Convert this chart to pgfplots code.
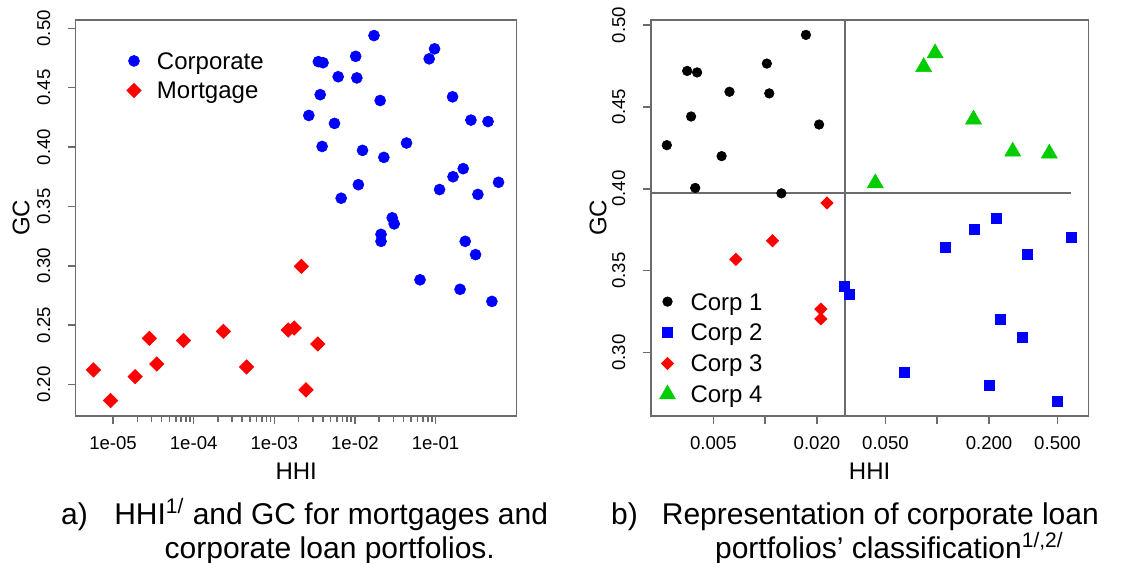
\documentclass[border=0pt]{standalone}
\usepackage{fontspec}
\setmainfont{Liberation Sans}
\usepackage{pgfplots}
\pgfplotsset{compat=1.18}
\definecolor{rgreen}{RGB}{0,205,0}
\definecolor{boxgray}{gray}{0.42}

\pgfplotsset{
  rstyle/.style={
    scale only axis,
    axis line style={boxgray, line width=0.8bp},
    tick style={boxgray, line width=0.8bp},
    tick align=outside,
    tick pos=left,
    major tick length=4bp,
    minor xtick={}, minor ytick={},
    ticklabel style={font=\fontsize{9.3bp}{11bp}\selectfont, inner sep=0pt},
    yticklabel style={rotate=90, anchor=south},
    xticklabel style={anchor=north},
    xticklabel shift=6bp,
    yticklabel shift=8.5bp,
    label style={font=\fontsize{12bp}{14bp}\selectfont},
    xlabel style={at={(axis description cs:0.5,-0.139)}, anchor=center},
    legend cell align=left,
    legend style={draw=none, fill=none, inner sep=0pt, outer sep=0pt,
      font=\fontsize{12bp}{14bp}\selectfont,
      nodes={inner sep=0pt, text depth=0pt},
      /tikz/every odd column/.append style={column sep=5.5bp}},
    mks/.style={only marks, mark options={solid, line width=0.3bp}},
  }
}

\begin{document}
\begin{tikzpicture}
% ---------------- Panel a ----------------
\begin{axis}[xmode=log, rstyle,
  at={(37.85bp,73.5bp)}, anchor=south west,
  width=220.5bp, height=198bp,
  xmin=3.44e-6, xmax=1.015, ymin=0.1735, ymax=0.507,
  xtick={1e-5,1e-4,1e-3,1e-2,1e-1},
  xticklabels={1e-05,1e-04,1e-03,1e-02,1e-01},
  ytick={0.20,0.25,0.30,0.35,0.40,0.45,0.50},
  yticklabels={0.20,0.25,0.30,0.35,0.40,0.45,0.50},
  xlabel={HHI}, ylabel={GC},
  ylabel style={at={(axis description cs:-0.124,0.5)}, anchor=center},
  legend image code/.code={\draw[#1] plot coordinates {(0bp,0bp)}; \path[draw=none, fill=none] (-6bp,-7.4bp) rectangle (6bp,7.4bp);},
  legend style={at={(axis description cs:0.105,0.934)}, anchor=north west},
]
\addplot[mks, blue, mark=*, mark size=2.75bp] coordinates {
(0.00268,0.4266) (0.00352,0.4719) (0.00402,0.4710) (0.00371,0.4441)
(0.00392,0.4005) (0.00620,0.4592) (0.00558,0.4199) (0.01022,0.4764)
(0.01056,0.4582) (0.01242,0.3972) (0.01725,0.4939) (0.02057,0.4392)
(0.0290,0.3404) (0.0307,0.3353) (0.1121,0.3642) (0.1648,0.3750)
(0.2204,0.3818) (0.6045,0.3703) (0.3350,0.3601) (0.2334,0.3206)
(0.3135,0.3094) (0.0642,0.2882) (0.2014,0.2802) (0.5000,0.2700)
(0.02284,0.3913) (0.01103,0.3683) (0.00675,0.3569) (0.02107,0.3265)
(0.02107,0.3206)
(0.04365,0.4034) (0.0834,0.4743) (0.0972,0.4827) (0.1625,0.4423)
(0.2746,0.4227) (0.4480,0.4215)
};
\addlegendentry{Corporate}
\addplot[mks, red, mark=square*, mark size=2.5bp, mark options={rotate=45}] coordinates {
(5.71e-6,0.2123) (9.31e-6,0.1865) (1.879e-5,0.2067) (2.818e-5,0.2389)
(3.49e-5,0.2173) (7.48e-5,0.2370) (2.339e-4,0.2448) (4.53e-4,0.2148)
(1.486e-3,0.2459) (1.766e-3,0.2476) (2.168e-3,0.2995) (2.472e-3,0.1955)
(3.46e-3,0.2342)
};
\addlegendentry{Mortgage}
\end{axis}

% ---------------- Panel b ----------------
\begin{axis}[xmode=log, rstyle,
  at={(325.35bp,73.5bp)}, anchor=south west,
  width=218.9bp, height=198bp,
  xmin=0.00216, xmax=0.757, ymin=0.2613, ymax=0.503,
  xtick={0.005,0.01,0.02,0.05,0.1,0.2,0.5},
  xticklabels={0.005,,0.020,0.050,,0.200,0.500},
  ytick={0.30,0.35,0.40,0.45,0.50},
  yticklabels={0.30,0.35,0.40,0.45,0.50},
  xlabel={HHI}, ylabel={GC},
  ylabel style={at={(axis description cs:-0.120,0.5)}, anchor=center},
  legend image code/.code={\draw[#1] plot coordinates {(0bp,0bp)}; \path[draw=none, fill=none] (-6bp,-7.725bp) rectangle (6bp,7.725bp);},
  legend style={at={(axis description cs:0.011,0.0157)}, anchor=south west},
]
\addplot[boxgray, line width=0.8bp, forget plot] coordinates {(0.029,0.2613) (0.029,0.503)};
\addplot[boxgray, line width=0.8bp, forget plot] coordinates {(0.00216,0.3975) (0.597,0.3975)};
\addplot[mks, black, mark=*, mark size=2.4bp] coordinates {
(0.00268,0.4266) (0.00352,0.4719) (0.00402,0.4710) (0.00371,0.4441)
(0.00392,0.4005) (0.00620,0.4592) (0.00558,0.4199) (0.01022,0.4764)
(0.01056,0.4582) (0.01242,0.3972) (0.01725,0.4939) (0.02057,0.4392)
};
\addlegendentry{Corp 1}
\addplot[mks, blue, mark=square*, mark size=2.5bp] coordinates {
(0.0290,0.3404) (0.0307,0.3353) (0.1121,0.3642) (0.1648,0.3750)
(0.2204,0.3818) (0.6045,0.3703) (0.3350,0.3601) (0.2334,0.3206)
(0.3135,0.3094) (0.0642,0.2882) (0.2014,0.2802) (0.5000,0.2700)
};
\addlegendentry{Corp 2}
\addplot[mks, red, mark=square*, mark size=2.15bp, mark options={rotate=45}] coordinates {
(0.02284,0.3913) (0.01103,0.3683) (0.00675,0.3569) (0.02107,0.3265)
(0.02107,0.3206)
};
\addlegendentry{Corp 3}
\addplot[mks, rgreen, mark=triangle*, mark size=4.6bp] coordinates {
(0.04365,0.4034) (0.0834,0.4743) (0.0972,0.4827) (0.1625,0.4423)
(0.2746,0.4227) (0.4480,0.4215)
};
\addlegendentry{Corp 4}
\end{axis}

% ---------------- Captions ----------------
\begin{scope}[every node/.style={font=\fontsize{15bp}{18bp}\selectfont, inner sep=0pt, anchor=base}]
\node at (152.3bp,19.5bp) {a)\hspace{0.88em}HHI\textsuperscript{1/} and GC for mortgages and};
\node at (164.9bp,2.5bp) {corporate loan portfolios.};
\node at (427.5bp,19.5bp) {b)\hspace{0.8em}Representation of corporate loan};
\node at (444.7bp,2.5bp) {portfolios’ classification\textsuperscript{1/,2/}};
\end{scope}

\pgfresetboundingbox
\path (0,0) rectangle (561bp,281.5bp);
\end{tikzpicture}
\end{document}
